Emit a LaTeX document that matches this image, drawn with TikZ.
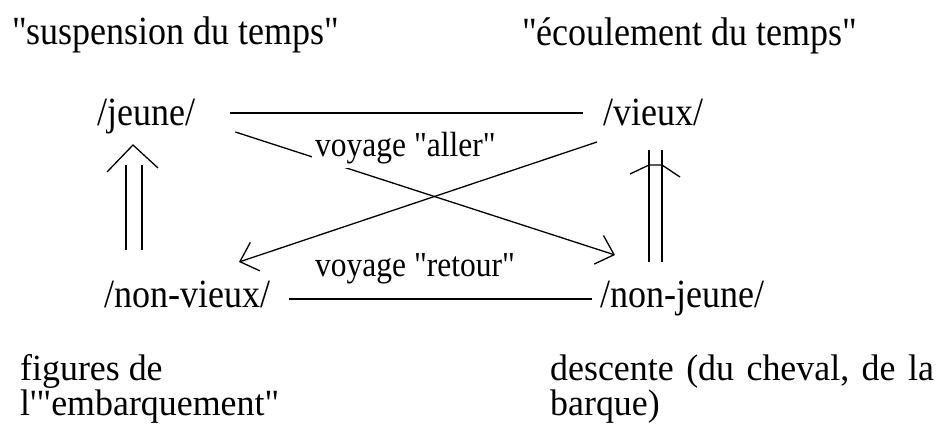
\documentclass[tikz,border=0pt]{standalone}
\usepackage{fontspec}
\setmainfont{Liberation Serif}[Ligatures=TeXOff, FakeStretch=0.9]
\usetikzlibrary{arrows.meta}
\tikzset{
  lbl/.style={font=\fontsize{40}{44}\selectfont, inner sep=0pt, anchor=base west},
  botlbl/.style={font=\fontsize{37}{40}\selectfont\addfontfeatures{FakeStretch=0.97}, inner sep=0pt, anchor=base west},
  small/.style={font=\fontsize{35}{40}\selectfont, inner sep=0pt, anchor=base west},
  ln/.style={line width=1.3pt},
  arr/.style={ln, -{Straight Barb[length=16pt,width=30pt]}},
  dblA/.style={line width=1.3pt, double, double distance=14.5pt},
  dblB/.style={line width=1.3pt, double, double distance=11.7pt},
}
\begin{document}
\begin{tikzpicture}[x=1pt,y=-1pt]
\useasboundingbox (0,0) rectangle (940,427);
\node[lbl] (titleA) at (12,45) {"suspension du temps"};
\node[lbl] (titleB) at (522,46) {"écoulement du temps"};
\node[lbl] (jeune) at (97,126) {/jeune/};
\node[lbl] (vieux) at (603,126) {/vieux/};
\node[lbl] (nonvieux) at (104,308) {/non-vieux/};
\node[lbl] (nonjeune) at (600,308) {/non-jeune/};
\node[botlbl] (figA) at (20,381) {figures de};
\node[botlbl] (figB) at (20,416) {l'"embarquement"};
\node[botlbl] (descA) at (550,381) {\spaceskip=12.5pt plus 1pt minus 1pt descente (du cheval, de la};
\node[botlbl] (descB) at (550,416) {barque)};

\draw[ln] ([xshift=35pt,yshift=13pt]jeune.base east) -- ([xshift=-20pt,yshift=13pt]vieux.base west);
\draw[ln] ([xshift=19pt,yshift=9pt]nonvieux.base east) -- ([xshift=-8pt,yshift=9pt]nonjeune.base west);

\draw[arr] ([xshift=40pt,yshift=-6pt]jeune.base east) -- ([xshift=15pt,yshift=53pt]nonjeune.base west);
\draw[arr] ([xshift=-6pt,yshift=-16pt]vieux.base west) -- ([xshift=135pt,yshift=46pt]nonvieux.base west);
\node[small, fill=white, inner sep=3pt] (aller) at (312,157) {voyage "aller"};
\node[small] (retour) at (315,277) {voyage "retour"};

\coordinate (la) at (134,250);
\coordinate (lb) at (134,165);
\draw[dblA] (la) -- (lb);
\draw[ln] ([shift={(-27,7)}]lb) -- ([shift={(-1,-20)}]lb) -- ([shift={(24,3)}]lb);

\coordinate (ra) at (655.5,262);
\coordinate (rb) at (655.5,150);
\draw[dblB] (ra) -- (rb);
\draw[ln] ([shift={(-25.5,24)}]rb) -- ([shift={(-6.5,15)}]rb) -- ([shift={(6.5,15)}]rb) -- ([shift={(24.5,27)}]rb);
\end{tikzpicture}
\end{document}
